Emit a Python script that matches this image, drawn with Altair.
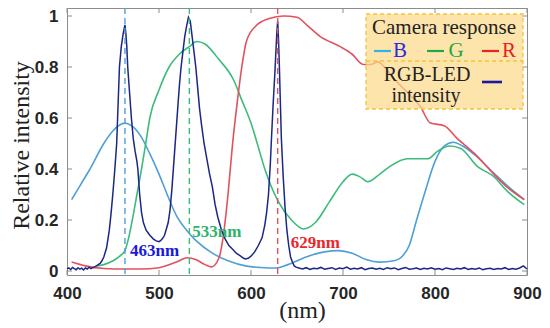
import altair as alt
import pandas as pd

# ---------------- data ----------------
b_nm = [405, 415, 425, 440, 450, 463, 470, 480, 490, 500, 510, 520, 530, 540, 558, 575, 594, 610, 627,
        640, 660, 680, 695, 710, 725, 740, 755, 765, 772, 780, 790, 800, 810, 820, 830, 845, 865, 880, 897]
b_val = [0.28, 0.34, 0.40, 0.50, 0.55, 0.58, 0.57, 0.53, 0.46, 0.38, 0.29, 0.21, 0.16, 0.12, 0.07, 0.04, 0.02,
         0.014, 0.012, 0.025, 0.055, 0.075, 0.08, 0.07, 0.045, 0.035, 0.04, 0.06, 0.1, 0.2, 0.32, 0.43, 0.49,
         0.505, 0.49, 0.45, 0.38, 0.33, 0.28]

g_nm = [432, 440, 450, 458, 463, 467, 471, 476, 481, 486, 490, 500, 511, 522, 533, 541, 550, 565, 581, 590,
        600, 606, 615, 630, 644, 657, 670, 685, 700, 710, 718, 727, 740, 751, 770, 792, 803, 816, 828, 846,
        864, 878, 897]
g_val = [0.02, 0.025, 0.04, 0.06, 0.08, 0.13, 0.2, 0.3, 0.4, 0.51, 0.6, 0.71, 0.8, 0.85, 0.88, 0.90, 0.89,
         0.83, 0.75, 0.67, 0.58, 0.51, 0.4, 0.27, 0.2, 0.165, 0.19, 0.27, 0.35, 0.38, 0.37, 0.35, 0.38, 0.41,
         0.44, 0.44, 0.47, 0.49, 0.48, 0.41, 0.37, 0.315, 0.26]

r_nm = [405, 420, 440, 460, 480, 500, 515, 522, 530, 540, 550, 557, 565, 570, 575, 580, 585, 590, 595, 605,
        620, 635, 650, 662, 675, 697, 710, 722, 730, 738, 745, 754, 770, 784, 795, 810, 824, 843, 864, 878, 897]
r_val = [0.035, 0.02, 0.01, 0.008, 0.008, 0.013, 0.03, 0.04, 0.052, 0.045, 0.025, 0.016, 0.05, 0.14, 0.3,
         0.5, 0.66, 0.8, 0.9, 0.96, 0.99, 1.0, 0.995, 0.96, 0.92, 0.88, 0.85, 0.81, 0.81, 0.82, 0.8, 0.76,
         0.7, 0.645, 0.58, 0.57, 0.52, 0.46, 0.38, 0.33, 0.28]

led_nm = [400, 402, 404, 406, 408, 410, 412, 414, 416, 418, 420, 422, 424, 426, 428, 430, 432, 434, 436, 438,
          440, 443, 446, 448, 450, 452, 454, 455, 457, 459, 461, 463, 464, 465, 466, 468, 470, 472, 474, 476,
          477, 479, 481, 483, 486, 490, 494, 497, 500, 502, 504, 506, 508, 510, 512, 514, 516, 518, 520, 522,
          524, 526, 528, 530, 532, 534, 536, 538, 540, 542, 544, 546, 549, 552, 555, 558, 561, 564, 568, 572,
          576, 580, 584, 588, 592, 594, 597, 600, 604, 608, 612, 615, 617, 619, 621, 622, 624, 626, 628, 629,
          630, 631, 632, 633, 635, 637, 639, 641, 643, 645, 647, 649,
          652, 656, 660, 664, 668, 672, 676, 680, 684, 688, 692, 696, 700, 704, 708, 712, 716, 720, 724, 728,
          732, 736, 740, 744, 748, 752, 756, 760, 764, 768, 772, 776, 780, 784, 788, 792, 796, 800, 804, 808,
          812, 816, 820, 824, 828, 832, 836, 840, 844, 848, 852, 856, 860, 864, 868, 872, 876, 880, 884, 888,
          892, 896, 900]
led_val = [0.008, 0.012, 0.006, 0.014, 0.009, 0.005, 0.013, 0.007, 0.011, 0.004, 0.012, 0.008, 0.015, 0.009,
           0.013, 0.016, 0.02, 0.025, 0.03, 0.04, 0.055, 0.09, 0.16, 0.23, 0.31, 0.4, 0.5, 0.6, 0.8, 0.88,
           0.93, 0.965, 0.93, 0.88, 0.8, 0.7, 0.6, 0.52, 0.47, 0.43, 0.4, 0.3, 0.23, 0.19, 0.16, 0.14, 0.125,
           0.118, 0.115, 0.12, 0.128, 0.14, 0.165, 0.19, 0.24, 0.32, 0.42, 0.52, 0.62, 0.72, 0.8, 0.86, 0.92,
           0.96, 0.995, 0.98, 0.92, 0.86, 0.8, 0.72, 0.64, 0.58, 0.5, 0.44, 0.38, 0.33, 0.26, 0.21, 0.16,
           0.125, 0.1, 0.085, 0.07, 0.06, 0.05, 0.047, 0.05, 0.058, 0.075, 0.1, 0.13, 0.18, 0.23, 0.3, 0.42,
           0.5, 0.65, 0.78, 0.93, 0.98, 0.9, 0.78, 0.65, 0.52, 0.37, 0.25, 0.16, 0.1, 0.055, 0.035, 0.02,
           0.015,
           0.012, 0.008, 0.013, 0.006, 0.011, 0.009, 0.014, 0.007, 0.01, 0.013, 0.006, 0.012, 0.009, 0.015,
           0.007, 0.011, 0.008, 0.013, 0.005, 0.01, 0.012, 0.007, 0.011, 0.006, 0.013, 0.009, 0.012, 0.005,
           0.01, 0.014, 0.007, 0.009, 0.012, 0.006, 0.011, 0.008, 0.013, 0.007, 0.01, 0.005, 0.012, 0.009,
           0.006, 0.011, 0.008, 0.013, 0.006, 0.01, 0.007, 0.012, 0.005, 0.009, 0.011, 0.006, 0.01, 0.008,
           0.013, 0.006, 0.01, 0.007, 0.012, 0.02, 0.008]

peak_nm = [463, 533, 629]
peak_labels = ["463nm", "533nm", "629nm"]

x_ticks = [400, 500, 600, 700, 800, 900]
y_ticks = [0, 0.2, 0.4, 0.6, 0.8, 1]

# ---------------- styling ----------------
W, H = 460, 267
XDOM = [400, 900]
YDOM = [-4 / 255, 263 / 255]
xs = alt.Scale(domain=XDOM, nice=False, zero=False)
ys = alt.Scale(domain=YDOM, nice=False, zero=False)

C_B, C_G, C_R, C_LED = "#4f9fd6", "#3dbb7c", "#e2515c", "#1b2785"
FRAME = "#8c8c8c"
SERIF = "Liberation Serif"

cam = pd.concat([
    pd.DataFrame({"nm": b_nm, "v": b_val, "s": "B"}),
    pd.DataFrame({"nm": g_nm, "v": g_val, "s": "G"}),
    pd.DataFrame({"nm": r_nm, "v": r_val, "s": "R"}),
])
led = pd.DataFrame({"nm": led_nm, "v": led_val})
peaks = pd.DataFrame({"nm": peak_nm, "lab": peak_labels})
xt = pd.DataFrame({"nm": x_ticks})
yt = pd.DataFrame({"v": y_ticks})
one = pd.DataFrame({"k": [0]})

x_axis = alt.Axis(values=x_ticks, format="d", domain=False, ticks=False, tickSize=0, grid=False,
                  labelFlush=False,
                  labelFont="Liberation Sans", labelFontWeight="bold", labelFontSize=17,
                  labelColor="#262626", labelPadding=10,
                  title="(nm)", titleFont=SERIF, titleFontSize=24, titleFontWeight="normal",
                  titleColor="#222222", titleX=235, titleY=35, titleBaseline="middle", titleAlign="center")
y_axis = alt.Axis(values=y_ticks, format="~g", domain=False, ticks=False, tickSize=0, grid=False,
                  labelFlush=False,
                  labelFont="Liberation Sans", labelFontWeight="bold", labelFontSize=17,
                  labelColor="#262626", labelPadding=9,
                  title="Relative intensity", titleFont=SERIF, titleFontSize=24, titleFontWeight="normal",
                  titleColor="#222222", titleX=-46, titleY=137, titleAngle=270,
                  titleBaseline="middle", titleAlign="center")


def X(field="nm"):
    return alt.X(f"{field}:Q", scale=xs, axis=x_axis, title="(nm)")


def Y(field="v"):
    return alt.Y(f"{field}:Q", scale=ys, axis=y_axis, title="Relative intensity")


curves = alt.Chart(cam).mark_line(interpolate="monotone", strokeWidth=1.6).encode(
    x=X(), y=Y(),
    color=alt.Color("s:N", scale=alt.Scale(domain=["B", "G", "R"], range=[C_B, C_G, C_R]), legend=None),
    detail="s:N",
)

led_line = alt.Chart(led).mark_line(strokeWidth=1.5, color=C_LED).encode(x=X(), y=Y())

dash = alt.Chart(peaks).mark_rule(strokeDash=[6, 4], strokeWidth=1.4).encode(
    x=X(),
    y=alt.value(0), y2=alt.value(H),
    color=alt.Color("lab:N", scale=alt.Scale(domain=peak_labels, range=["#3a3a9a", "#3db37a", "#e06060"]),
                    legend=None),
)

ann_layers = []
for lab, dx, ypix, col in [("463nm", 5, 243, "#1a1adb"), ("533nm", 3, 224, "#2db36b"),
                           ("629nm", 13, 235, "#e8282d")]:
    ann_layers.append(
        alt.Chart(peaks).transform_filter(alt.datum.lab == lab).mark_text(
            align="left", baseline="middle", dx=dx, font=SERIF, fontSize=17, fontWeight="bold", color=col
        ).encode(x=X(), y=alt.value(ypix), text="lab:N")
    )

# inward ticks on all four sides
tick_style = dict(color=FRAME, strokeWidth=1)
xt_bot = alt.Chart(xt).mark_rule(**tick_style).encode(x=X(), y=alt.value(H - 5), y2=alt.value(H))
xt_top = alt.Chart(xt).mark_rule(**tick_style).encode(x=X(), y=alt.value(0), y2=alt.value(5))
yt_left = alt.Chart(yt).mark_rule(**tick_style).encode(y=Y(), x=alt.value(0), x2=alt.value(5))
yt_right = alt.Chart(yt).mark_rule(**tick_style).encode(y=Y(), x=alt.value(W - 5), x2=alt.value(W))

# custom legend box
box = alt.Chart(one).mark_rect(fill="#fcda8a", fillOpacity=0.72, stroke="#f0c53a", strokeWidth=1.3,
                               strokeDash=[4, 3]).encode(
    x=alt.value(299), x2=alt.value(456), y=alt.value(6), y2=alt.value(101))
divider = alt.Chart(one).mark_rule(stroke="#f0c53a", strokeWidth=1.3, strokeDash=[4, 3]).encode(
    x=alt.value(299), x2=alt.value(456), y=alt.value(53))


def txt(s, x, y, color, size=20):
    return alt.Chart(one).mark_text(text=s, font=SERIF, fontSize=size, color=color, align="center",
                                    baseline="middle").encode(x=alt.value(x), y=alt.value(y))


def seg(x1, x2, y, color, w=2.2):
    return alt.Chart(one).mark_rule(color=color, strokeWidth=w).encode(
        x=alt.value(x1), x2=alt.value(x2), y=alt.value(y))


legend_layers = [
    box, divider,
    txt("Camera response", 377, 20, "#222222", 21),
    seg(307, 324, 43, "#33b5e0"), txt("B", 333, 43, "#2a2ae0", 21),
    seg(360, 377, 43, "#1fa84a"), txt("G", 389, 43, "#22aa44", 21),
    seg(415, 432, 43, "#e62222"), txt("R", 442, 43, "#e82020", 21),
    txt("RGB-LED", 360, 67, "#222222"), txt("intensity", 359, 88, "#222222"),
    seg(415, 435, 74, "#1a1a9c", 2.6),
]

chart = alt.layer(
    curves, led_line, dash, *ann_layers, xt_bot, xt_top, yt_left, yt_right, *legend_layers
).properties(
    width=W, height=H,
    padding={"left": 59, "top": 0, "right": 15, "bottom": 50},
    autosize=alt.AutoSizeParams(type="none"),
).configure_view(stroke=FRAME, strokeWidth=1)

chart.save("out.html", embed_options={"renderer": "svg", "actions": False})
